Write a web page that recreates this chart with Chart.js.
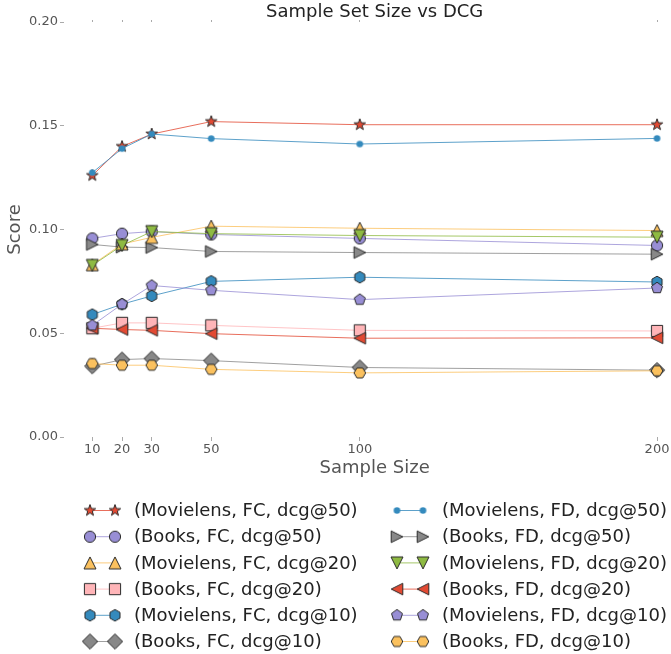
<!DOCTYPE html>
<html lang="en">
<head>
<meta charset="UTF-8" />
<title>Sample Set Size vs DCG</title>
<script src="https://cdn.jsdelivr.net/npm/chart.js"></script>
<style>
  html, body { margin: 0; padding: 0; background: #fff; }
</style>
</head>
<body>
<canvas id="grafico" width="671" height="654"></canvas>
<script>
// x values and tick labels
const sampleSizes = [10, 20, 30, 50, 100, 200];
const scoreTicks = [0, 0.05, 0.10, 0.15, 0.20];

// scores (plot order)
const mlFc50 = [0.126, 0.140, 0.146, 0.152, 0.1505, 0.1505];
const mlFd50 = [0.1274, 0.139, 0.146, 0.1438, 0.1412, 0.1439];
const bkFc50 = [0.0957, 0.098, 0.099, 0.0976, 0.0957, 0.0923];
const bkFd50 = [0.0928, 0.0915, 0.0913, 0.0894, 0.0889, 0.0881];
const mlFc20 = [0.083, 0.093, 0.0962, 0.1016, 0.1006, 0.0995];
const mlFd20 = [0.0827, 0.0923, 0.099, 0.098, 0.0971, 0.0963];
const bkFc20 = [0.0524, 0.055, 0.055, 0.0538, 0.0514, 0.0511];
const bkFd20 = [0.0524, 0.0518, 0.0514, 0.0498, 0.0476, 0.0478];
const mlFc10 = [0.059, 0.064, 0.068, 0.075, 0.077, 0.0747];
const mlFd10 = [0.0538, 0.064, 0.073, 0.0707, 0.0662, 0.0718];
const bkFc10 = [0.0341, 0.0373, 0.0378, 0.0368, 0.0335, 0.0322];
const bkFd10 = [0.0354, 0.0346, 0.0346, 0.0326, 0.0309, 0.0319];

const labels = [
  '(Movielens, FC, dcg@50)', '(Movielens, FD, dcg@50)',
  '(Books, FC, dcg@50)', '(Books, FD, dcg@50)',
  '(Movielens, FC, dcg@20)', '(Movielens, FD, dcg@20)',
  '(Books, FC, dcg@20)', '(Books, FD, dcg@20)',
  '(Movielens, FC, dcg@10)', '(Movielens, FD, dcg@10)',
  '(Books, FC, dcg@10)', '(Books, FD, dcg@10)'
];
const values = [mlFc50, mlFd50, bkFc50, bkFd50, mlFc20, mlFd20, bkFc20, bkFd20, mlFc10, mlFd10, bkFc10, bkFd10];

// styles (ggplot colour cycle)
const colors = ['#E24A33', '#348ABD', '#988ED5', '#888888', '#FBC15E', '#8EBA42', '#FFB5B8',
                '#E24A33', '#348ABD', '#988ED5', '#888888', '#FBC15E'];
const shapes = ['star', 'dot', 'circle', 'triRight', 'triUp', 'triDown', 'square',
                'triLeft', 'hexPointy', 'pentagon', 'diamond', 'hexFlat'];
const sizes = [6, 3.3, 5.6, 5.8, 6, 6, 5.6, 5.8, 5.8, 5.8, 7.6, 5.8];
// legend: left column FC, right column FD
const legendLeft = [0, 2, 4, 6, 8, 10];
const legendRight = [1, 3, 5, 7, 9, 11];

const FONT = '"DejaVu Sans", "Liberation Sans", sans-serif';
const X_MIN = 0.48, X_MAX = 204.7;
const X_MID = 105; // middle of the original (uncropped) x range

function makeMarker(shape, r, fill) {
  const s = Math.ceil(2 * r + 4);
  const c = document.createElement('canvas');
  c.width = s; c.height = s;
  const g = c.getContext('2d');
  const cx = s / 2, cy = s / 2;
  const poly = (n, a0, rr) => {
    for (let k = 0; k < n; k++) {
      const a = a0 + k * 2 * Math.PI / n;
      const px = cx + Math.cos(a) * rr(k), py = cy + Math.sin(a) * rr(k);
      k ? g.lineTo(px, py) : g.moveTo(px, py);
    }
    g.closePath();
  };
  g.beginPath();
  if (shape === 'circle' || shape === 'dot') g.arc(cx, cy, r, 0, 2 * Math.PI);
  else if (shape === 'star') poly(10, -Math.PI / 2, k => (k % 2 ? r * 0.4 : r));
  else if (shape === 'pentagon') poly(5, -Math.PI / 2, () => r);
  else if (shape === 'hexPointy') poly(6, -Math.PI / 2, () => r);
  else if (shape === 'hexFlat') poly(6, 0, () => r);
  else if (shape === 'diamond') poly(4, -Math.PI / 2, () => r);
  else if (shape === 'square') g.rect(cx - r, cy - r, 2 * r, 2 * r);
  else if (shape === 'triUp') { g.moveTo(cx, cy - r); g.lineTo(cx + r, cy + r); g.lineTo(cx - r, cy + r); g.closePath(); }
  else if (shape === 'triDown') { g.moveTo(cx, cy + r); g.lineTo(cx + r, cy - r); g.lineTo(cx - r, cy - r); g.closePath(); }
  else if (shape === 'triLeft') { g.moveTo(cx - r, cy); g.lineTo(cx + r, cy - r); g.lineTo(cx + r, cy + r); g.closePath(); }
  else if (shape === 'triRight') { g.moveTo(cx + r, cy); g.lineTo(cx - r, cy - r); g.lineTo(cx - r, cy + r); g.closePath(); }
  g.fillStyle = fill;
  g.fill();
  if (shape !== 'dot') {
    g.lineWidth = 1;
    g.strokeStyle = '#2b2b2b';
    g.stroke();
  }
  return c;
}

function withAlpha(hex, a) {
  const n = parseInt(hex.slice(1), 16);
  return `rgba(${n >> 16}, ${(n >> 8) & 255}, ${n & 255}, ${a})`;
}

const markers = shapes.map((s, i) => makeMarker(s, sizes[i], colors[i]));

const datasets = values.map((vals, i) => ({
  label: labels[i],
  data: vals.map((v, j) => ({ x: sampleSizes[j], y: v })),
  borderColor: withAlpha(colors[i], 0.8),
  backgroundColor: colors[i],
  borderWidth: 1,
  pointStyle: markers[i],
  pointRadius: sizes[i],
  pointHoverRadius: sizes[i],
  tension: 0,
  fill: false,
  clip: false,
  order: -i
}));

// title, x axis title and two-marker legend drawn on the canvas
const extrasPlugin = {
  id: 'extras',
  afterDraw(chart) {
    const ctx = chart.ctx;
    const midX = chart.scales.x.getPixelForValue(X_MID);
    ctx.save();
    ctx.textAlign = 'center';
    ctx.textBaseline = 'middle';
    ctx.font = '18px ' + FONT;
    ctx.fillStyle = '#222';
    ctx.fillText('Sample Set Size vs DCG', midX, 12);
    ctx.fillStyle = '#555';
    ctx.fillText('Sample Size', midX, 468);

    ctx.textAlign = 'left';
    const cols = [[legendLeft, 90, 115, 134], [legendRight, 397, 423, 442]];
    cols.forEach(([list, m1, m2, tx]) => {
      list.forEach((idx, row) => {
        const y = 510.5 + row * 26.2;
        ctx.strokeStyle = withAlpha(colors[idx], 0.8);
        ctx.lineWidth = 1;
        ctx.beginPath();
        ctx.moveTo(m1, y);
        ctx.lineTo(m2, y);
        ctx.stroke();
        const img = markers[idx];
        ctx.drawImage(img, m1 - img.width / 2, y - img.height / 2);
        ctx.drawImage(img, m2 - img.width / 2, y - img.height / 2);
        ctx.fillStyle = '#222';
        ctx.fillText(labels[idx], tx, y + 1);
      });
    });
    ctx.restore();
  }
};

const tickFont = { family: FONT, size: 13 };
const titleFont = { family: FONT, size: 18 };

new Chart(document.getElementById('grafico').getContext('2d'), {
  type: 'line',
  data: { datasets },
  plugins: [extrasPlugin],
  options: {
    responsive: false,
    animation: false,
    layout: { autoPadding: false, padding: { top: 22, right: 0, bottom: 167, left: 0 } },
    plugins: {
      legend: { display: false },
      title: { display: false },
      tooltip: { enabled: false }
    },
    scales: {
      x: {
        type: 'linear',
        position: 'bottom',
        min: X_MIN,
        max: X_MAX,
        afterBuildTicks: s => { s.ticks = sampleSizes.map(v => ({ value: v })); },
        afterFit: s => { s.height = 50; s.paddingLeft = 0; s.paddingRight = 0; },
        border: { display: false },
        grid: { drawOnChartArea: false, tickLength: 4, color: '#aaa' },
        ticks: { color: '#555', font: tickFont, padding: 1, maxRotation: 0, callback: v => String(v) }
      },
      xTop: {
        type: 'linear',
        position: 'top',
        min: X_MIN,
        max: X_MAX,
        afterBuildTicks: s => { s.ticks = sampleSizes.map(v => ({ value: v })); },
        afterFit: s => { s.height = 0; s.paddingLeft = 0; s.paddingRight = 0; },
        border: { display: false },
        grid: { drawOnChartArea: false, tickLength: 2, color: '#aaa' },
        ticks: { display: false }
      },
      y: {
        min: 0,
        max: 0.2,
        afterBuildTicks: s => { s.ticks = scoreTicks.map(v => ({ value: v })); },
        afterFit: s => { s.width = 64; },
        border: { display: false },
        grid: { drawOnChartArea: false, tickLength: 4, color: '#aaa' },
        ticks: { color: '#555', font: tickFont, padding: 2, callback: v => v.toFixed(2) },
        title: { display: true, text: 'Score', color: '#555', font: titleFont, padding: { top: 5, bottom: 0 } }
      }
    }
  }
});
</script>
</body>
</html>
